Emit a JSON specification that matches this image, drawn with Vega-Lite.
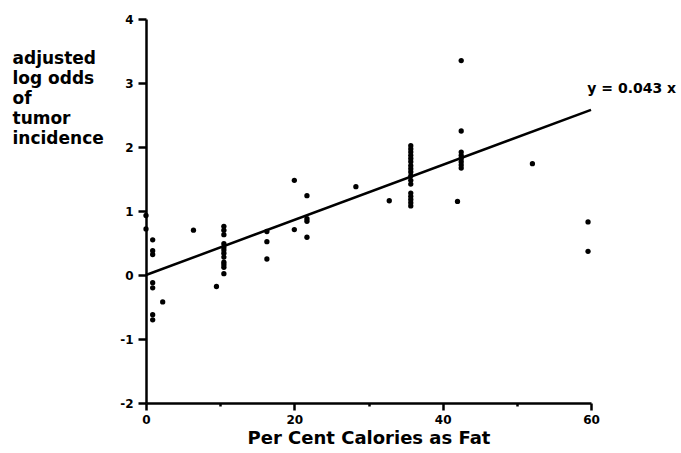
{
  "$schema": "https://vega.github.io/schema/vega-lite/v6.json",
  "width": 445,
  "height": 384,
  "autosize": "none",
  "padding": {"left": 146, "top": 19, "right": 90, "bottom": 50},
  "background": "white",
  "config": {
    "view": {"stroke": null},
    "axis": {
      "domainColor": "black",
      "domainWidth": 2.5,
      "tickColor": "black",
      "tickWidth": 2.5,
      "labelColor": "black",
      "labelFont": "DejaVu Sans",
      "labelFontWeight": "bold",
      "labelFontSize": 12,
      "titleColor": "black",
      "titleFont": "DejaVu Sans",
      "titleFontWeight": "bold",
      "grid": false
    }
  },
  "datasets": {
    "pts": [
      {"fat": 0, "odds": 0.93}, {"fat": 0, "odds": 0.72},
      {"fat": 0.9, "odds": 0.55}, {"fat": 0.9, "odds": 0.38}, {"fat": 0.9, "odds": 0.32},
      {"fat": 0.9, "odds": -0.12}, {"fat": 0.9, "odds": -0.2},
      {"fat": 0.9, "odds": -0.62}, {"fat": 0.9, "odds": -0.7},
      {"fat": 2.25, "odds": -0.42},
      {"fat": 6.4, "odds": 0.7},
      {"fat": 9.5, "odds": -0.18},
      {"fat": 10.5, "odds": 0.76}, {"fat": 10.5, "odds": 0.7}, {"fat": 10.5, "odds": 0.63},
      {"fat": 10.5, "odds": 0.49}, {"fat": 10.5, "odds": 0.43}, {"fat": 10.5, "odds": 0.39},
      {"fat": 10.5, "odds": 0.34}, {"fat": 10.5, "odds": 0.28}, {"fat": 10.5, "odds": 0.2},
      {"fat": 10.5, "odds": 0.16}, {"fat": 10.5, "odds": 0.12}, {"fat": 10.5, "odds": 0.02},
      {"fat": 16.3, "odds": 0.68}, {"fat": 16.3, "odds": 0.52}, {"fat": 16.3, "odds": 0.25},
      {"fat": 20, "odds": 1.48}, {"fat": 20, "odds": 0.71},
      {"fat": 21.7, "odds": 1.24}, {"fat": 21.7, "odds": 0.88}, {"fat": 21.7, "odds": 0.84}, {"fat": 21.7, "odds": 0.59},
      {"fat": 28.3, "odds": 1.38},
      {"fat": 32.8, "odds": 1.16},
      {"fat": 35.7, "odds": 2.02}, {"fat": 35.7, "odds": 1.97}, {"fat": 35.7, "odds": 1.92},
      {"fat": 35.7, "odds": 1.87}, {"fat": 35.7, "odds": 1.82}, {"fat": 35.7, "odds": 1.77},
      {"fat": 35.7, "odds": 1.71}, {"fat": 35.7, "odds": 1.66}, {"fat": 35.7, "odds": 1.61},
      {"fat": 35.7, "odds": 1.55}, {"fat": 35.7, "odds": 1.48}, {"fat": 35.7, "odds": 1.42},
      {"fat": 35.7, "odds": 1.28}, {"fat": 35.7, "odds": 1.23}, {"fat": 35.7, "odds": 1.18},
      {"fat": 35.7, "odds": 1.13}, {"fat": 35.7, "odds": 1.08},
      {"fat": 42, "odds": 1.15},
      {"fat": 42.5, "odds": 3.35}, {"fat": 42.5, "odds": 2.25}, {"fat": 42.5, "odds": 1.92},
      {"fat": 42.5, "odds": 1.87}, {"fat": 42.5, "odds": 1.82}, {"fat": 42.5, "odds": 1.77},
      {"fat": 42.5, "odds": 1.72}, {"fat": 42.5, "odds": 1.67},
      {"fat": 52.1, "odds": 1.74},
      {"fat": 59.6, "odds": 0.83}, {"fat": 59.6, "odds": 0.37}
    ],
    "fit": [{"fat": 0, "odds": 0}, {"fat": 60, "odds": 2.58}],
    "note": [{"fat": 59.5, "odds": 2.85, "label": "y = 0.043 x"}]
  },
  "layer": [
    {
      "data": {"name": "pts"},
      "mark": {"type": "circle", "size": 28, "color": "black", "opacity": 1},
      "encoding": {
        "x": {
          "field": "fat", "type": "quantitative",
          "scale": {"domain": [0, 60], "nice": false, "zero": false},
          "axis": {
            "values": [0, 10, 20, 30, 40, 50, 60],
            "labelExpr": "datum.value % 20 === 0 ? '' + datum.value : ''",
            "tickSize": {"condition": {"test": "datum.value % 20 === 0", "value": 7}, "value": 3},
            "labelPadding": 4,
            "labelFlush": false,
            "title": "Per Cent Calories as Fat",
            "titleFontSize": 18,
            "titleBaseline": "alphabetic",
            "titleY": 40
          }
        },
        "y": {
          "field": "odds", "type": "quantitative",
          "scale": {"domain": [-2, 4], "nice": false, "zero": false},
          "axis": {
            "values": [-2, -1.5, -1, -0.5, 0, 0.5, 1, 1.5, 2, 2.5, 3, 3.5, 4],
            "labelExpr": "datum.value % 1 === 0 ? '' + datum.value : ''",
            "tickSize": {"condition": {"test": "datum.value % 1 === 0", "value": 8}, "value": 4},
            "labelPadding": 5,
            "labelFlush": false,
            "title": ["adjusted", "log odds", "of", "tumor", "incidence"],
            "titleAngle": 0,
            "titleAlign": "left",
            "titleBaseline": "alphabetic",
            "titleX": -134,
            "titleY": 44,
            "titleLineHeight": 20,
            "titleFontSize": 17
          }
        }
      }
    },
    {
      "data": {"name": "fit"},
      "mark": {"type": "line", "color": "black", "strokeWidth": 2.5},
      "encoding": {
        "x": {"field": "fat", "type": "quantitative"},
        "y": {"field": "odds", "type": "quantitative"}
      }
    },
    {
      "data": {"name": "note"},
      "mark": {"type": "text", "font": "DejaVu Sans", "fontWeight": "bold", "fontSize": 14, "align": "left", "baseline": "alphabetic", "color": "black"},
      "encoding": {
        "x": {"field": "fat", "type": "quantitative"},
        "y": {"field": "odds", "type": "quantitative"},
        "text": {"field": "label"}
      }
    }
  ]
}
